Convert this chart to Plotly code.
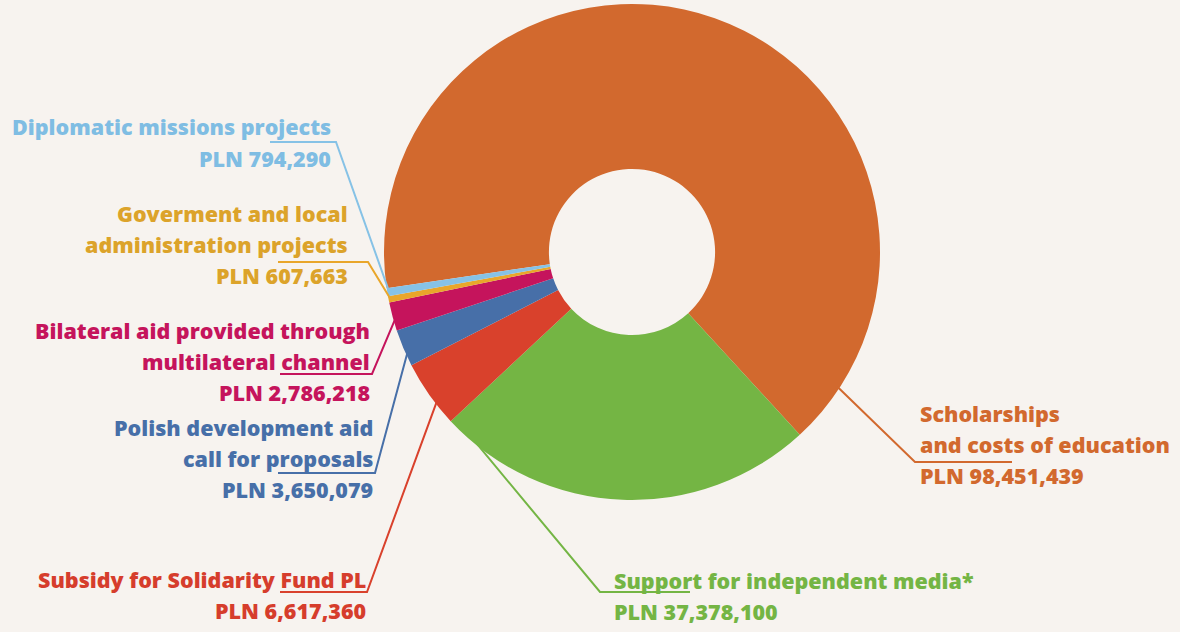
import math
import plotly.graph_objects as go

# ---- data ----
categories = [
    "Scholarships and costs of education",
    "Support for independent media*",
    "Subsidy for Solidarity Fund PL",
    "Polish development aid call for proposals",
    "Bilateral aid provided through multilateral channel",
    "Goverment and local administration projects",
    "Diplomatic missions projects",
]
values = [98451439, 37378100, 6617360, 3650079, 2786218, 607663, 794290]
label_lines = [
    ["Scholarships", "and costs of education"],
    ["Support for independent media*"],
    ["Subsidy for Solidarity Fund PL"],
    ["Polish development aid", "call for proposals"],
    ["Bilateral aid provided through", "multilateral channel"],
    ["Goverment and local", "administration projects"],
    ["Diplomatic missions projects"],
]
colors = ["#d2692e", "#74b544", "#d9412c", "#476fa8", "#c5145c", "#e9a62a", "#86c2e6"]
text_colors = ["#d2692e", "#74b544", "#d63d2c", "#476fa8", "#c5145c", "#dca32a", "#7fbde3"]

# ---- layout constants ----
W, H = 1180, 632
CX, CY, R = 632, 252, 248
HOLE = 0.335
ROTATION = 261.6
FONT = "Open Sans"
FS = 21.5
LH = 31

# label placement: (side, text x, first-line y, attach fraction within slice, elbow x, elbow y, underline end x)
label_layout = [
    ("left", 918, 413, 0.94, 915, 462, 1012),
    ("left", 612, 580, 0.92, 600, 592, 690),
    ("right", 368, 579, 0.35, 367, 592, 280),
    ("right", 375, 427, 0.35, 375, 473, 278),
    ("right", 372, 330, 0.4, 372, 374, 280),
    ("right", 350, 213, 0.5, 368, 262, 278),
    ("right", 333, 127, 0.5, 336, 142, 270),
]

fig = go.Figure()
fig.add_trace(go.Pie(
    labels=categories,
    values=values,
    sort=False,
    direction="clockwise",
    rotation=ROTATION,
    hole=HOLE,
    marker=dict(colors=colors, line=dict(width=0)),
    textinfo="none",
    hoverinfo="label+value",
    showlegend=False,
    domain=dict(x=[(CX - R) / W, (CX + R) / W], y=[1 - (CY + R) / H, 1 - (CY - R) / H]),
))


def px(x):
    return x / W


def py(y):
    return 1 - y / H


total = sum(values)
cum = 0.0
shapes = []
annotations = []
for i, v in enumerate(values):
    start = ROTATION + 360 * cum / total
    span = 360 * v / total
    cum += v
    side, tx, ty, frac, ex, ey, ux = label_layout[i]
    ang = math.radians(start + span * frac)
    ax = CX + (R - 2) * math.sin(ang)
    ay = CY - (R - 2) * math.cos(ang)
    path = f"M {px(ax)},{py(ay)} L {px(ex)},{py(ey)} L {px(ux)},{py(ey)}"
    shapes.append(dict(type="path", xref="paper", yref="paper", path=path,
                       line=dict(color=colors[i], width=2)))
    lines = label_lines[i] + [f"PLN {v:,}"]
    for j, t in enumerate(lines):
        annotations.append(dict(
            x=px(tx), y=py(ty + j * LH), xref="paper", yref="paper",
            text=t, showarrow=False,
            xanchor="right" if side == "right" else "left", yanchor="middle",
            font=dict(family=FONT, size=FS, color=text_colors[i], weight=800),
        ))

fig.update_layout(
    width=W, height=H,
    margin=dict(l=0, r=0, t=0, b=0),
    paper_bgcolor="#f7f3ef",
    plot_bgcolor="#f7f3ef",
    shapes=shapes,
    annotations=annotations,
)

fig.write_html(
    "out.html",
    config={"displayModeBar": False},
    post_script="document.body.style.margin='0';document.body.style.background='#f7f3ef';",
)
